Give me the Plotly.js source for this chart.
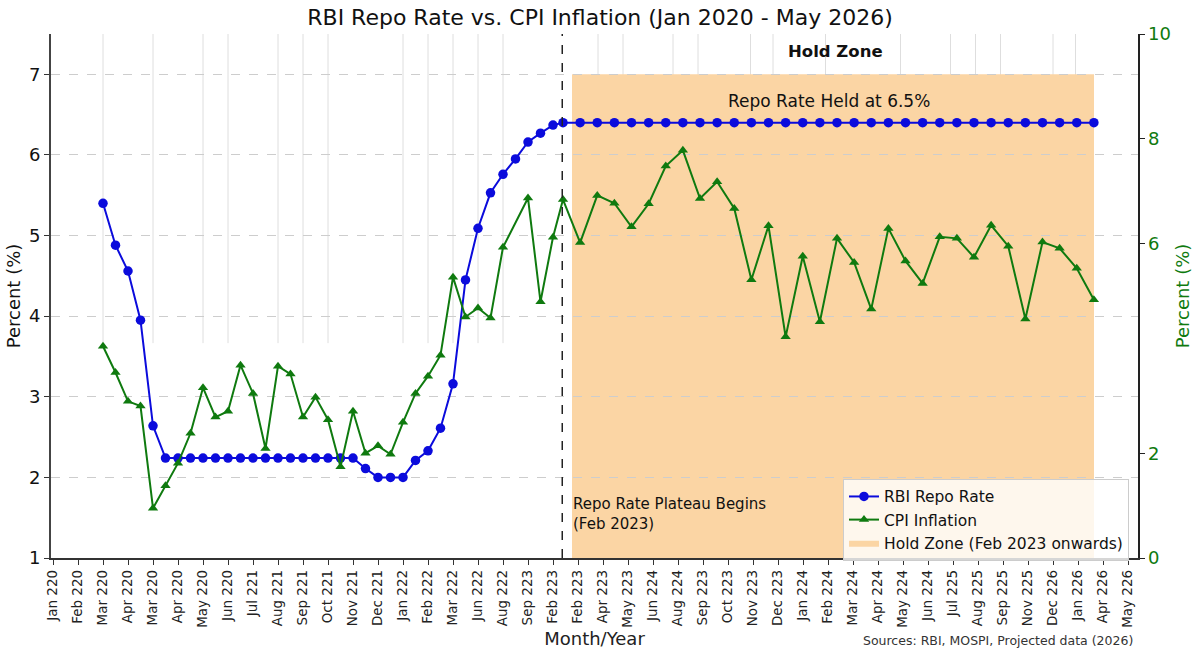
<!DOCTYPE html>
<html><head><meta charset="utf-8">
<script src="https://cdn.plot.ly/plotly-3.0.1.min.js"></script>
<style>html,body{margin:0;padding:0;background:#fff}</style>
</head><body><div id="chart" style="width:1200px;height:655px"></div>
<script>
const tickLabels = ["Jan 220","Feb 220","Mar 220","Apr 220","Mar 220","Apr 220","May 220","Jun 220",
  "Jul 221","Aug 221","Sep 221","Oct 221","Nov 221","Dec 221","Jan 222","Feb 222","Mar 222","Jun 222",
  "Aug 222","Sep 223","Feb 223","Feb 223","Apr 223","May 223","Jun 224","Aug 224","Sep 223","Oct 223",
  "Nov 223","Dec 223","Jan 224","Feb 224","Mar 224","Apr 224","May 224","Jun 224","Jul 225","Aug 225",
  "Sep 225","Nov 225","Dec 226","Jan 226","Apr 226","May 226"];

// Before the hold zone (monthly, left axis / right axis)
const repoPre = [5.40, 4.88, 4.56, 3.95, 2.64, 2.24, 2.24, 2.24, 2.24, 2.24, 2.24, 2.24, 2.24,
  2.24, 2.24, 2.24, 2.24, 2.24, 2.24, 2.24, 2.24, 2.11, 2.00, 2.00, 2.00, 2.21, 2.33, 2.61, 3.16,
  4.45, 5.09, 5.53, 5.76, 5.95, 6.16, 6.27, 6.37];
const cpiPre = [4.04, 3.54, 2.99, 2.90, 0.95, 1.38, 1.81, 2.38, 3.25, 2.69, 2.80, 3.68, 3.14,
  2.09, 3.66, 3.51, 2.69, 3.07, 2.64, 1.74, 2.80, 2.00, 2.14, 1.98, 2.59, 3.14, 3.47, 3.87, 5.36,
  4.60, 4.77, 4.58, 5.93, null, 6.87, 4.89, 6.12];
// Hold zone (Feb 2023 onwards)
const repoHold = [6.4, 6.4, 6.4, 6.4, 6.4, 6.4, 6.4, 6.4, 6.4, 6.4, 6.4, 6.4, 6.4, 6.4, 6.4, 6.4,
  6.4, 6.4, 6.4, 6.4, 6.4, 6.4, 6.4, 6.4, 6.4, 6.4, 6.4, 6.4, 6.4, 6.4, 6.4, 6.4];
const cpiHold = [6.84, 6.02, 6.92, 6.77, 6.32, 6.76, 7.48, 7.78, 6.86, 7.18, 6.67, 5.31, 6.34,
  4.22, 5.76, 4.51, 6.10, 5.64, 4.75, 6.29, 5.67, 5.24, 6.13, 6.10, 5.74, 6.35, 5.95, 4.56, 6.03,
  5.91, 5.53, 4.93];

// positions on the tick-label scale (layout)
const PRE_START = 2, PRE_STEP = 0.5, HOLD_START = 20.4, HOLD_STEP = 0.685;
const xPre = repoPre.map((_, i) => PRE_START + PRE_STEP * i);
const xHold = repoHold.map((_, j) => HOLD_START + HOLD_STEP * j);
const xs = xPre.concat(xHold);
const repo = repoPre.concat(repoHold);
const cpi = cpiPre.concat(cpiHold);

const BLUE = '#0b0bdc', GREEN = '#0f7a0f', HOLD = '#FBD5A4';
const FONT = 'DejaVu Sans';

const traces = [
  {x: xs, y: repo, name: 'RBI Repo Rate', type: 'scatter', mode: 'lines+markers', yaxis: 'y',
   line: {color: BLUE, width: 2}, marker: {color: BLUE, size: 9.5, symbol: 'circle'}},
  {x: xs, y: cpi, name: 'CPI Inflation', type: 'scatter', mode: 'lines+markers', yaxis: 'y2',
   connectgaps: true,
   line: {color: GREEN, width: 2}, marker: {color: GREEN, size: 9, symbol: 'triangle-up'}},
  {x: [-5, -5, -4, -4], y: [0, 1, 1, 0], name: 'Hold Zone (Feb 2023 onwards)', type: 'scatter',
   mode: 'lines', fill: 'toself', fillcolor: HOLD, line: {width: 0, color: HOLD}, yaxis: 'y',
   hoverinfo: 'skip'}
];

const ghostX = [2, 4, 6, 7, 9, 10, 11, 14, 15, 16, 17, 18, 21.8, 22.8, 24.8, 25.8, 27.9, 28.8, 30.9,
  33.9, 35.9, 36.9, 37.9, 40, 40.9];
const shapes = ghostX.map(v => ({type: 'line', xref: 'x', yref: 'paper', x0: v, x1: v, y0: 0.41, y1: 1,
  line: {color: '#dedede', width: 1}, layer: 'below'}));
shapes.push({type: 'rect', xref: 'x', yref: 'y', x0: 20.76, x1: 41.64, y0: 1, y1: 7,
  fillcolor: HOLD, line: {width: 0}, layer: 'below'});
shapes.push({type: 'line', xref: 'x', yref: 'paper', x0: 20.37, x1: 20.37, y0: 0, y1: 1,
  line: {color: '#222', width: 1.5, dash: 'dash'}, layer: 'above'});

const layout = {
  width: 1200, height: 655,
  margin: {l: 51, r: 62, t: 34, b: 97},
  paper_bgcolor: '#fff', plot_bgcolor: '#fff',
  font: {family: FONT, color: '#111'},
  showlegend: true,
  title: {text: 'RBI Repo Rate vs. CPI Inflation (Jan 2020 - May 2026)', x: 0.5, xanchor: 'center',
    y: 0.973, yref: 'container', yanchor: 'middle', font: {family: FONT, size: 22, color: '#111'}},
  xaxis: {range: [-0.08, 43.4], tickvals: tickLabels.map((_, k) => k), ticktext: tickLabels,
    tickangle: -90, ticks: 'outside', ticklen: 5, tickcolor: '#333', showline: true, linecolor: '#333',
    linewidth: 1.5, showgrid: false, zeroline: false, tickfont: {size: 13.5, color: '#222'},
    automargin: false,
    title: {text: 'Month/Year', font: {size: 18, color: '#222'}, standoff: 5}},
  yaxis: {range: [1, 7.5], tickvals: [1, 2, 3, 4, 5, 6, 7], ticks: 'outside', ticklen: 5,
    tickcolor: '#333', showline: true, linecolor: '#444', linewidth: 2, zeroline: false,
    showgrid: true, gridcolor: '#cdcdcd', griddash: 'dash', gridwidth: 1,
    tickfont: {size: 18, color: '#111'}, automargin: false,
    title: {text: 'Percent (%)', font: {size: 18, color: '#111'}, standoff: 4}},
  yaxis2: {range: [0, 10], tickvals: [0, 2, 6, 8, 10], overlaying: 'y', side: 'right',
    ticks: 'outside', ticklen: 5, tickcolor: '#222', showline: true, linecolor: '#222', linewidth: 1.5,
    showgrid: false, zeroline: false, tickfont: {size: 18, color: GREEN}, automargin: false,
    title: {text: 'Percent (%)', font: {size: 18, color: GREEN}, standoff: 6}},
  legend: {x: 0.7286, y: 0.151, xanchor: 'left', yanchor: 'top', bgcolor: 'rgba(255,255,255,0.8)',
    bordercolor: '#cccccc', borderwidth: 1, font: {size: 15.5, color: '#111'}, tracegroupgap: 0},
  shapes: shapes,
  annotations: [
    {text: '<b>Hold Zone</b>', xref: 'x', yref: 'paper', x: 31.28, y: 0.966, showarrow: false,
     font: {size: 16.5, color: '#111'}, xanchor: 'center', yanchor: 'middle'},
    {text: 'Repo Rate Held at 6.5%', xref: 'x', yref: 'paper', x: 31.04, y: 0.872, showarrow: false,
     font: {size: 17, color: '#111'}, xanchor: 'center', yanchor: 'middle'},
    {text: 'Repo Rate Plateau Begins<br>(Feb 2023)', xref: 'x', yref: 'paper', x: 20.7, y: 0.084,
     showarrow: false, align: 'left', font: {size: 15, color: '#111'}, xanchor: 'left', yanchor: 'middle'},
    {text: 'Sources: RBI, MOSPI, Projected data (2026)', xref: 'paper', yref: 'paper', x: 0.997,
     y: -0.158, showarrow: false, font: {size: 12.5, color: '#333'}, xanchor: 'right', yanchor: 'middle'}
  ]
};

Plotly.newPlot('chart', traces, layout, {displayModeBar: false, staticPlot: true});
</script></body></html>
